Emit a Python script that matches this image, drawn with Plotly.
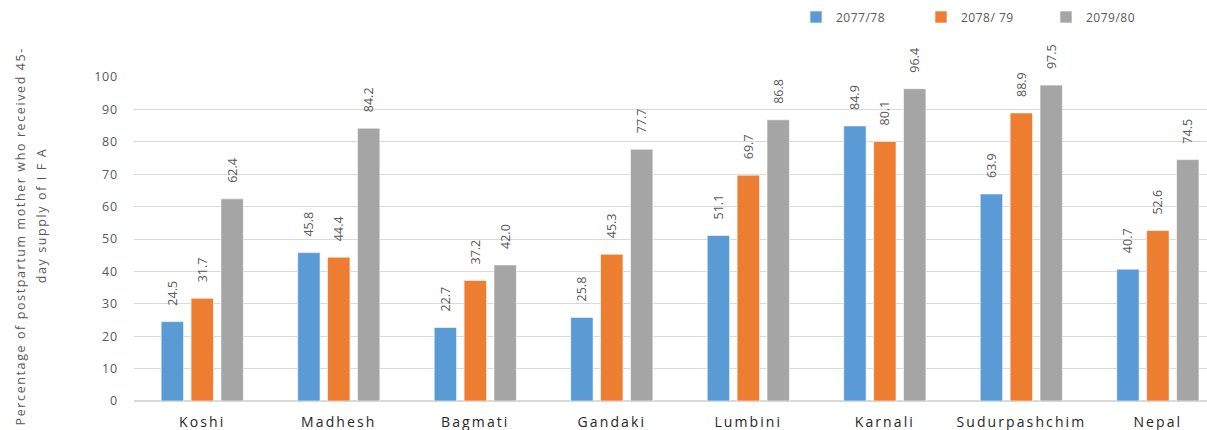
import plotly.graph_objects as go

categories = ["Koshi", "Madhesh", "Bagmati", "Gandaki", "Lumbini", "Karnali", "Sudurpashchim", "Nepal"]
series_names = ["2077/78", "2078/ 79", "2079/80"]
v_2077 = [24.5, 45.8, 22.7, 25.8, 51.1, 84.9, 63.9, 40.7]
v_2078 = [31.7, 44.4, 37.2, 45.3, 69.7, 80.1, 88.9, 52.6]
v_2079 = [62.4, 84.2, 42.0, 77.7, 86.8, 96.4, 97.5, 74.5]
colors = ["#5B9BD5", "#ED7D31", "#A5A5A5"]
y_title_1 = "Percentage of postpartum mother who received 45-"
y_title_2 = "day supply of I F A"

FONT = "Open Sans"
fig = go.Figure()
for name, vals, col in zip(series_names, [v_2077, v_2078, v_2079], colors):
    fig.add_trace(go.Bar(
        x=categories, y=vals, name=name,
        marker=dict(color=col, line=dict(color="rgba(255,255,255,0.6)", width=1)),
        text=["\u00a0\u00a0\u00a0\u00a0" + f"{v:.1f}" for v in vals],
        textposition="outside", textangle=-90, constraintext="none",
        textfont=dict(family=FONT, size=12.5, color="#595959"),
        cliponaxis=False,
    ))

W, H = 1207, 430
L = 134
PW = W - L
fig.update_layout(
    width=W, height=H,
    margin=dict(l=L, r=0, t=77, b=29, autoexpand=False),
    paper_bgcolor="white", plot_bgcolor="white",
    barmode="group", bargap=0.343, bargroupgap=0.25,
    font=dict(family=FONT, color="#595959"),
    legend=dict(orientation="h", xref="container", yref="container",
                x=796 / W, xanchor="left", y=1 - 17 / H, yanchor="middle",
                font=dict(family=FONT, size=12, color="#595959"),
                entrywidth=80, entrywidthmode="pixels", itemwidth=30,
                bgcolor="rgba(0,0,0,0)"),
    xaxis=dict(range=[-0.5, 7.36], showgrid=False, showline=True, linecolor="#D9D9D9",
               linewidth=1, ticks="", automargin=False,
               tickfont=dict(family=FONT, size=14, color="#262626"),
               ticklabelstandoff=8),
    yaxis=dict(range=[0, 100], dtick=10, showgrid=True, gridcolor="#D9D9D9", gridwidth=1,
               zeroline=True, zerolinecolor="#D9D9D9", showline=False, ticks="",
               automargin=False,
               tickfont=dict(family=FONT, size=12.5, color="#595959"),
               ticklabelstandoff=15),
    annotations=[
        dict(text=y_title_1, xref="paper", yref="paper", x=(20 - L) / PW, y=(401 - 237) / 324,
             xanchor="center", yanchor="middle", textangle=-90, showarrow=False,
             font=dict(family=FONT, size=12.5, color="#595959")),
        dict(text=y_title_2, xref="paper", yref="paper", x=(41 - L) / PW, y=(401 - 216) / 324,
             xanchor="center", yanchor="middle", textangle=-90, showarrow=False,
             font=dict(family=FONT, size=12.5, color="#595959")),
    ],
)

post = """
document.body.style.margin = '0';
document.body.style.padding = '0';
var gd = document.getElementById('{plot_id}');
function sp(){
  gd.querySelectorAll('.xtick text').forEach(function(t){t.style.letterSpacing='2.1px';});
  gd.querySelectorAll('.ytick text').forEach(function(t){t.style.letterSpacing='0.8px';});
  gd.querySelectorAll('.annotation-text').forEach(function(t){t.style.letterSpacing='1.6px';});
  gd.querySelectorAll('.legendtext').forEach(function(t){t.style.letterSpacing='0.5px';});
}
sp();
gd.on('plotly_afterplot', sp);
"""

fig.write_html("out.html", post_script=post, config={"displayModeBar": False})
